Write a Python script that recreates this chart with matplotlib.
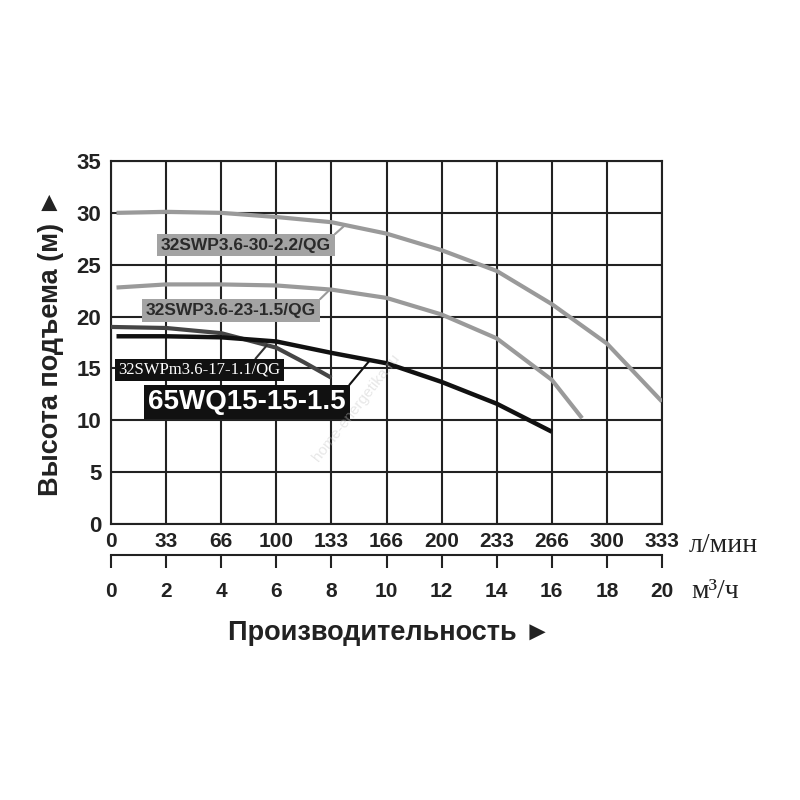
import numpy as np
import matplotlib
matplotlib.use("Agg")
from matplotlib import pyplot as plt

# flow in m3/h, head in m
q_30 = [0.2, 2, 4, 6, 8, 10, 12, 14, 16, 18, 20]
h_30 = [30.0, 30.1, 30.0, 29.6, 29.1, 28.0, 26.4, 24.4, 21.2, 17.4, 11.8]

q_23 = [0.2, 2, 4, 6, 8, 10, 12, 14, 16, 17.1]
h_23 = [22.8, 23.1, 23.1, 23.0, 22.6, 21.8, 20.2, 17.9, 13.9, 10.2]

q_17 = [0.0, 2, 4, 6, 7, 8]
h_17 = [19.0, 18.9, 18.4, 17.0, 15.6, 14.1]

q_65 = [0.2, 2, 4, 6, 8, 10, 12, 14, 16]
h_65 = [18.1, 18.1, 18.0, 17.6, 16.5, 15.5, 13.7, 11.6, 8.9]

m3h_ticks = [0, 2, 4, 6, 8, 10, 12, 14, 16, 18, 20]
lmin_labels = ['0', '33', '66', '100', '133', '166', '200', '233', '266', '300', '333']
head_ticks = [0, 5, 10, 15, 20, 25, 30, 35]

SANS = ['Liberation Sans', 'DejaVu Sans']
SERIF = ['Liberation Serif', 'DejaVu Serif']

fig = plt.figure(figsize=(8, 8), dpi=100)
ax = fig.add_axes([0.13875, 0.345, 0.68875, 0.45375])

ax.plot(q_30, h_30, color='#9a9a9a', lw=3.0, solid_capstyle='butt', zorder=3)
ax.plot(q_23, h_23, color='#9a9a9a', lw=3.0, solid_capstyle='butt', zorder=3)
ax.plot(q_17, h_17, color='#454545', lw=3.0, solid_capstyle='butt', zorder=3)
ax.plot(q_65, h_65, color='#111111', lw=3.2, solid_capstyle='butt', zorder=4)

ax.set_xlim(0, 20)
ax.set_ylim(0, 35)
ax.set_xticks(m3h_ticks)
ax.set_xticklabels(lmin_labels, fontfamily=SANS, fontweight='bold', fontsize=15)
ax.set_yticks(head_ticks)
ax.set_yticklabels([str(t) for t in head_ticks], fontfamily=SANS, fontweight='bold', fontsize=16)
ax.tick_params(axis='both', length=0, colors='#222222')
ax.tick_params(axis='x', pad=6)
ax.tick_params(axis='y', pad=7)
ax.grid(True, color='#222222', lw=1.5)
ax.set_axisbelow(True)
for s in ax.spines.values():
    s.set_color('#222222')
    s.set_linewidth(1.5)

ax.set_ylabel('Высота подъема (м) ►', fontfamily=SANS, fontweight='bold',
              fontsize=19.5, color='#222222', labelpad=9)

# curve labels with leader lines
def tag(text, qs, hs, q_at, xytext, relpos, **kw):
    ax.annotate(text, xy=(q_at, np.interp(q_at, qs, hs)), xytext=xytext,
                ha='center', va='center', zorder=5,
                arrowprops=dict(arrowstyle='-', color=kw.pop('lc'), lw=1.5,
                                shrinkA=0, shrinkB=0, relpos=relpos),
                **kw)

tag('32SWP3.6-30-2.2/QG', q_30, h_30, 8.5, (4.9, 26.9), (1, 1),
    lc='#9a9a9a', fontfamily=SANS, fontweight='bold', fontsize=12.5, color='#2a2a2a',
    bbox=dict(boxstyle='square,pad=0.22', fc='#a3a3a3', ec='none'))
tag('32SWP3.6-23-1.5/QG', q_23, h_23, 7.95, (4.36, 20.6), (1, 1),
    lc='#9a9a9a', fontfamily=SANS, fontweight='bold', fontsize=12.5, color='#2a2a2a',
    bbox=dict(boxstyle='square,pad=0.22', fc='#a3a3a3', ec='none'))
tag('32SWPm3.6-17-1.1/QG', q_17, h_17, 5.66, (3.2, 14.85), (0.83, 1),
    lc='#333333', fontfamily=SERIF, fontsize=12, color='white',
    bbox=dict(boxstyle='square,pad=0.2', fc='#111111', ec='none'))
tag('65WQ15-15-1.5', q_65, h_65, 9.4, (4.94, 11.76), (1, 1),
    lc='#111111', fontfamily=SANS, fontweight='bold', fontsize=20, color='white',
    bbox=dict(boxstyle='square,pad=0.15', fc='#111111', ec='none'))

# watermark
ax.text(8.9, 11.2, 'home-energetika.ru', rotation=52, fontsize=11, color='#c4c4c4',
        alpha=0.4, ha='center', va='center', fontfamily=SANS, zorder=6)

# second flow axis in m3/h
ax2 = fig.add_axes([0.13875, 0.30625, 0.68875, 0.0001])
ax2.set_xlim(0, 20)
ax2.set_xticks(m3h_ticks)
ax2.set_xticklabels([str(t) for t in m3h_ticks], fontfamily=SANS, fontweight='bold', fontsize=15)
ax2.set_yticks([])
for name in ['top', 'left', 'right']:
    ax2.spines[name].set_visible(False)
ax2.spines['bottom'].set_color('#222222')
ax2.spines['bottom'].set_linewidth(1.5)
ax2.tick_params(axis='x', direction='out', length=9.5, width=1.5, colors='#222222', pad=10)
ax2.patch.set_visible(False)

fig.text(689 / 800, 1 - 545 / 800, 'л/мин', fontfamily=SERIF, fontsize=20,
         color='#222222', ha='left', va='center')
fig.text(691 / 800, 1 - 592 / 800, 'м³/ч', fontfamily=SERIF, fontsize=20,
         color='#222222', ha='left', va='center')
fig.text(390 / 800, 1 - 633 / 800, 'Производительность ►', fontfamily=SANS,
         fontweight='bold', fontsize=19.5, color='#222222', ha='center', va='center')

fig.savefig('out.png', dpi=100, facecolor='white')
